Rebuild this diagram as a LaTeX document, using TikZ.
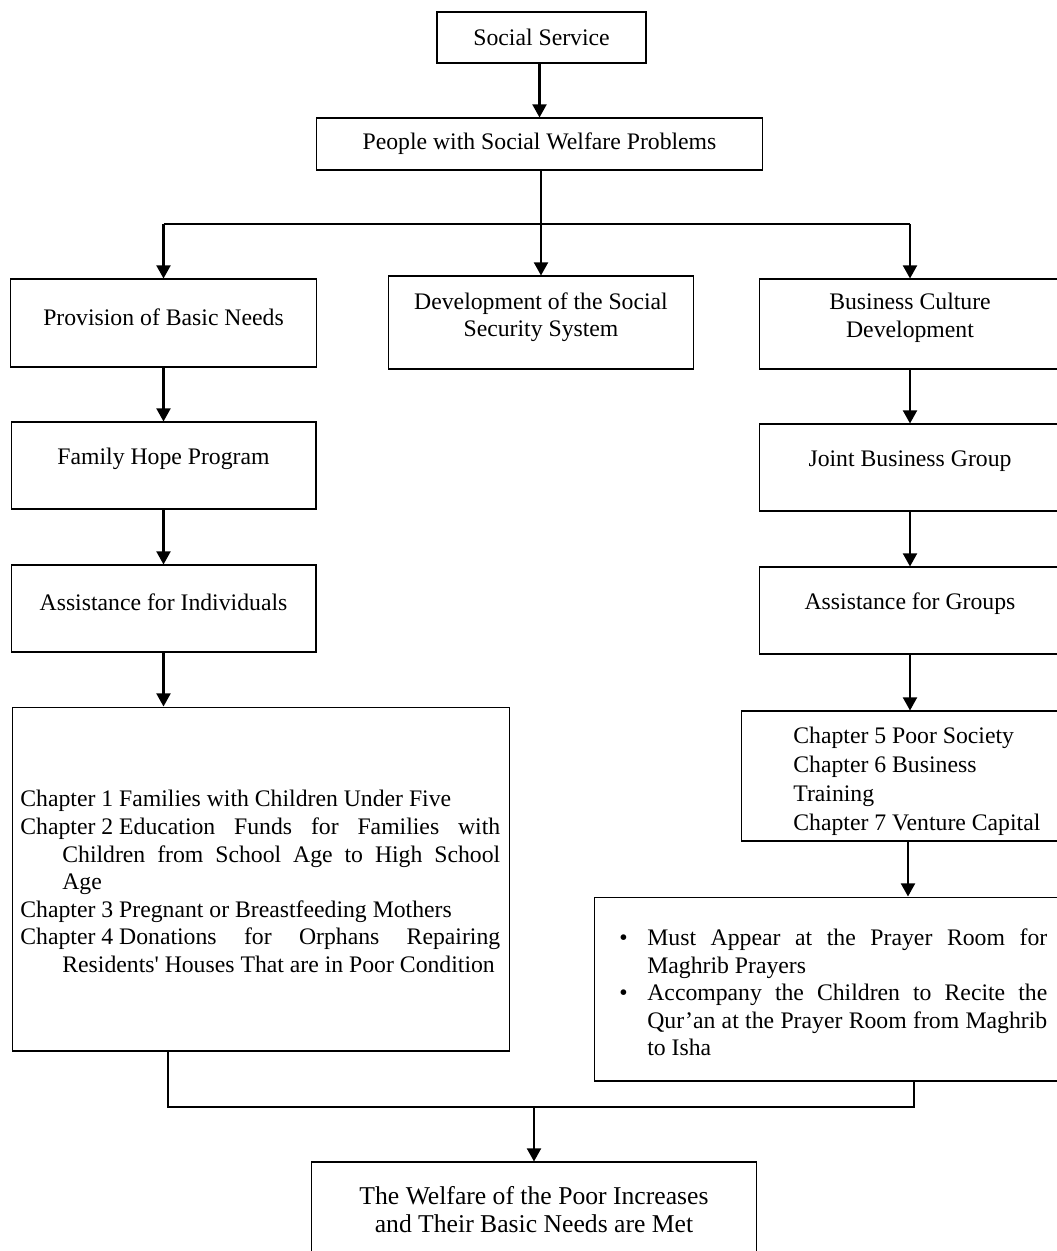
\documentclass[tikz,border=0pt]{standalone}
\usepackage{fontspec}
\setmainfont{Liberation Serif}
\newfontfamily\rawserif[Ligatures=TeXOff]{Liberation Serif}
\usetikzlibrary{arrows.meta}
\tikzset{
  box/.style={shape=rectangle, draw, line width=0.6pt},
  boxtext/.style={anchor=center, align=center, inner sep=0pt, font=\fontsize{13.5}{15.7}\selectfont},
  listtext/.style={anchor=west, inner sep=0pt, font=\fontsize{13.5}{15.7}\selectfont},
  wire/.style={line width=0.6pt},
  arr/.style={line width=1.2pt, -{Triangle[length=7.5pt, width=8pt]}}
}
\newcommand{\chapline}[2]{\par\noindent\hangindent=0.84cm\hangafter=1 \mbox{#1}\hspace{0.25em}#2\par}
\newcommand{\bulletline}[1]{\par\noindent\hangindent=0.56cm\hangafter=1\makebox[0.56cm][l]{\textbullet}#1\par}
\begin{document}
\begin{tikzpicture}[x=0.02cm, y=-0.02cm]
            \useasboundingbox (0, 0) rectangle (1057, 1251);
            % Boxes and texts:
            \node[box, minimum width=4.18cm, minimum height=1.02cm] (soc) at (541.5, 37.5){} node[boxtext] (soc-txt) at (541.5, 37.5){Social Service};
            \node[box, minimum width=8.94cm, minimum height=1.04cm] (people) at (539.5, 144){} node[boxtext] (people-txt) at (539.5, 144){People with Social Welfare Problems};
            \node[box, minimum width=6.12cm, minimum height=1.76cm] (basic) at (163.5, 323){} node[boxtext] (basic-txt) at (163.5, 317){Provision of Basic Needs};
            \node[box, minimum width=6.1cm, minimum height=1.86cm] (secur) at (541, 322.5){} node[boxtext] (secur-txt) at (541, 317){Development of the Social\\Security System};
            \node[box, minimum width=6.04cm, minimum height=1.8cm] (culture) at (910, 324){} node[boxtext] (culture-txt) at (910, 318){Business Culture\\Development};
            \node[box, minimum width=6.1cm, minimum height=1.74cm] (hope) at (163.5, 465.5){} node[boxtext] (hope-txt) at (163.5, 459){Family Hope Program};
            \node[box, minimum width=6.04cm, minimum height=1.74cm] (joint) at (910, 467.5){} node[boxtext] (joint-txt) at (910, 461){Joint Business Group};
            \node[box, minimum width=6.1cm, minimum height=1.74cm] (indiv) at (163.5, 608.5){} node[boxtext] (indiv-txt) at (163.5, 602){Assistance for Individuals};
            \node[box, minimum width=6.04cm, minimum height=1.74cm] (groups) at (910, 610.5){} node[boxtext] (groups-txt) at (910, 604){Assistance for Groups};
            \node[box, minimum width=9.96cm, minimum height=6.88cm] (chapL) at (261, 879){} node[listtext, text width=9.6cm, align=justify] (chapL-txt) at (20, 876){%
              \chapline{Chapter 1}{Families with Children Under Five}%
              \chapline{Chapter 2}{Education Funds for Families with\linebreak Children from School Age to High School\linebreak Age}%
              \chapline{Chapter 3}{Pregnant or Breastfeeding Mothers}%
              \chapline{Chapter 4}{Donations for Orphans Repairing\linebreak Residents{\rawserif '} Houses That are in Poor Condition}};
            \node[box, minimum width=6.68cm, minimum height=2.6cm] (chapR) at (908, 776){} node[listtext, align=left, font=\fontsize{13.5}{16.5}\selectfont] (chapR-txt) at (793, 781){Chapter 5 Poor Society\\Chapter 6 Business\\Training\\Chapter 7 Venture Capital};
            \node[box, minimum width=9.8cm, minimum height=3.68cm] (prayer) at (839, 989){} node[listtext, text width=8.56cm, align=justify] (prayer-txt) at (619, 987){%
              \bulletline{Must Appear at the Prayer Room for\linebreak Maghrib Prayers}%
              \bulletline{Accompany the Children to Recite the\linebreak Qur’an at the Prayer Room from Maghrib\linebreak to Isha}};
            \node[box, minimum width=8.92cm, minimum height=2.04cm] (welfare) at (534, 1213){} node[boxtext, font=\fontsize{14.6}{15.9}\selectfont] (welfare-txt) at (534, 1210){The Welfare of the Poor Increases\\and Their Basic Needs are Met};
            % Wires:
            \coordinate (busL) at (163.5, 224);
            \coordinate (busR) at (910, 224);
            \coordinate (busM) at (541, 224);
            \coordinate (joinL) at (168, 1107);
            \coordinate (joinR) at (914, 1107);
            \draw[arr] (soc.south -| people) -- (people.north);
            \draw[wire] (people.south -| busM) -- (busM);
            \draw[wire] (busL) -- (busR);
            \draw[arr] (busL) -- (basic.north);
            \draw[arr] (busM) -- (secur.north);
            \draw[arr] (busR) -- (culture.north);
            \draw[arr] (basic) -- (hope);
            \draw[arr] (hope) -- (indiv);
            \draw[arr] (indiv.south) -- (indiv.south |- chapL.north);
            \draw[arr] (culture) -- (joint);
            \draw[arr] (joint) -- (groups);
            \draw[arr] (groups.south) -- (groups.south |- chapR.north);
            \draw[arr] (chapR.south) -- (chapR.south |- prayer.north);
            \draw[wire] (chapL.south -| joinL) -- (joinL) -- (joinR) -- (prayer.south -| joinR);
            \draw[arr] (welfare.north |- joinL) -- (welfare.north);
        \end{tikzpicture}
\end{document}
